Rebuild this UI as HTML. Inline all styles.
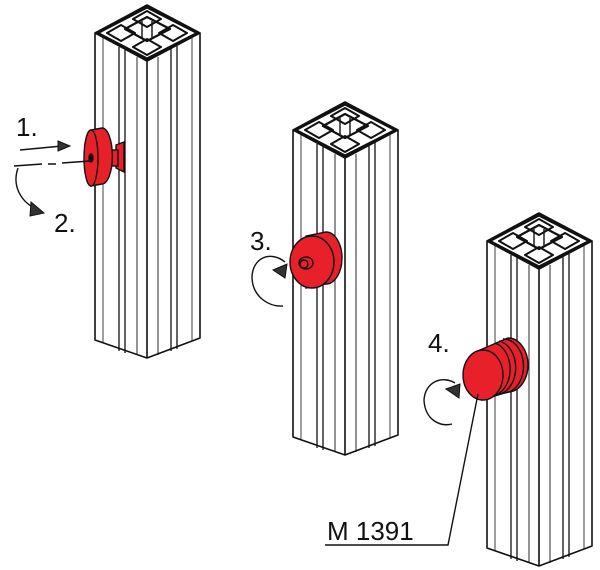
<!DOCTYPE html>
<html><head><meta charset="utf-8"><style>
html,body{margin:0;padding:0;background:#fff;}
svg{display:block;}
text{font-family:"Liberation Sans",sans-serif;fill:#111;}
</style></head><body>
<svg width="600" height="570" viewBox="0 0 600 570" xmlns="http://www.w3.org/2000/svg">
<defs>
<g id="prof" fill="#fff" stroke="#111" stroke-width="1.6" stroke-linejoin="round">
  <path d="M0,0 L0,307 L52,325 L105,305 L105,0 L52,-28 Z"/>
  <path d="M0,0 L52,28 L52,325" fill="none"/>
  <path d="M105,0 L52,28" fill="none"/>
  <path d="M24,14 L24,318 M30,17 L30,320" fill="none" stroke-width="1.3"/>
  <path d="M76,16 L76,318 M82,13 L82,316" fill="none" stroke-width="1.3"/>
  <path d="M42,24 L42,322 M63,24 L63,322" fill="none" stroke-width="0.9"/>
  <path d="M8,4 L8,310 M97,4 L97,308" fill="none" stroke-width="0.8"/>
  <path d="M2,0 L52,-26 L103,0 L52,26 Z" fill="#fff" stroke-width="3"/>
  <path d="M30,-4 L52,-16 L75,-4 L52,8 Z" fill="none" stroke-width="2.2"/>
  <path d="M12,0 L26,-8 L40,0 L26,8 Z M64,0 L78,-8 L92,0 L78,8 Z M38,-14 L52,-22 L66,-14 L52,-6 Z M38,14 L52,6 L66,14 L52,22 Z" fill="none" stroke-width="2"/>
  <path d="M47,-12 L47,6 M57,-12 L57,6" fill="none" stroke-width="1.4"/>
</g>
</defs>

<use href="#prof" x="95" y="33"/>
<use href="#prof" x="293" y="130"/>
<use href="#prof" x="487" y="241"/>

<!-- part 1 -->
<g stroke="#111" stroke-width="1.4">
  <path d="M116,145 L124,142 L124,172 L116,168 Z" fill="#e8202a"/>
  <rect x="108" y="150" width="10" height="16" fill="#e8202a"/>
  <path d="M91,130 L102,128 A10,27 0 0 1 102,184 L91,186 Z" fill="#e8202a"/>
  <ellipse cx="91" cy="158" rx="7" ry="28" fill="#e8202a"/>
  <ellipse cx="91" cy="158" rx="2" ry="4" fill="#111"/>
</g>
<path d="M20,150 L62,146" stroke="#111" stroke-width="1.4"/>
<path d="M58,141 L70,146 L58,151 Z" fill="#333" stroke="#111"/>
<path d="M14,166 L42,164 M48,164 L56,164 M62,163 L90,161" stroke="#111" stroke-width="1.4"/>
<path d="M18,168 C12,185 20,200 34,208" fill="none" stroke="#111" stroke-width="1.4"/>
<path d="M31,202 L44,213 L30,216 Z" fill="#333" stroke="#111"/>
<text x="16" y="136" font-size="26">1.</text>
<text x="54" y="232" font-size="26">2.</text>

<!-- part 2 -->
<g stroke="#111" stroke-width="1.4">
  <path d="M306,236 L326,232 A16,26 0 0 1 326,284 L306,288 Z" fill="#e8202a"/>
  <ellipse cx="312" cy="262" rx="22" ry="26" fill="#e8202a"/>
  <ellipse cx="306" cy="263" rx="7" ry="6" fill="#e8202a"/>
  <ellipse cx="304" cy="264" rx="4" ry="4" fill="none"/>
</g>
<path d="M285,262 C270,250 252,258 252,278 C253,298 270,307 283,306" fill="none" stroke="#111" stroke-width="1.4"/>
<path d="M273,270 L287,264 L285,278 Z" fill="#333" stroke="#111"/>
<text x="250" y="250" font-size="26">3.</text>

<!-- part 3 -->
<g stroke="#111" stroke-width="1.4">
  <path d="M480,350 L508,338 A20,27 0 0 1 508,392 L482,400 Z" fill="#e8202a"/>
  <path d="M495,343 A20,27 0 0 1 496,395 M499,341 A20,27 0 0 1 500,394 M503,339 A20,27 0 0 1 504,393" fill="none"/>
  <ellipse cx="483" cy="375" rx="20" ry="25" fill="#e8202a"/>
</g>
<path d="M455,383 C442,375 425,382 424,400 C425,420 440,427 452,424" fill="none" stroke="#111" stroke-width="1.4"/>
<path d="M446,389 L460,384 L459,398 Z" fill="#333" stroke="#111"/>
<text x="428" y="352" font-size="26">4.</text>

<text x="327" y="540" font-size="26">M 1391</text>
<path d="M325,545 L448,545 L478,394" fill="none" stroke="#111" stroke-width="1.4"/>
</svg>
</body></html>
